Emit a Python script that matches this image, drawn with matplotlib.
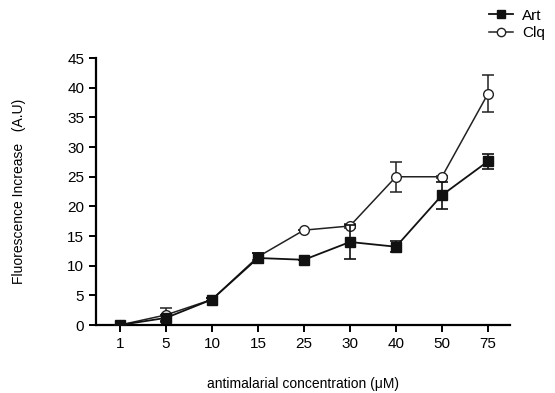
import matplotlib
matplotlib.use("Agg")
import matplotlib.pyplot as plt
from matplotlib.lines import Line2D
import numpy as np

plt.rcParams['font.family'] = ['Liberation Sans', 'DejaVu Sans']

concentrations = ["1", "5", "10", "15", "25", "30", "40", "50", "75"]
art = [0.0, 1.2, 4.3, 11.3, 11.0, 14.0, 13.2, 21.9, 27.6]
art_err = [0.0, 0.5, 0.3, 0.8, 0.0, 2.9, 0.9, 2.3, 1.3]
clq = [0.0, 1.7, 4.3, 11.5, 16.0, 16.7, 25.0, 25.0, 39.0]
clq_err = [0.0, 1.2, 0.2, 0.6, 0.0, 0.3, 2.5, 0.2, 3.1]

x = np.arange(len(concentrations))

fig = plt.figure(figsize=(5.55, 3.93), dpi=100)
ax = fig.add_axes([0.173, 0.173, 0.746, 0.679])

ax.errorbar(x, art, yerr=art_err, color='#111111', marker='s', markersize=7,
            lw=1.3, capsize=4, elinewidth=1.2, capthick=1.2, zorder=3)
ax.errorbar(x, clq, yerr=clq_err, color='#222222', marker='o', markersize=7,
            markerfacecolor='white', lw=1.1, capsize=4, elinewidth=1.1,
            capthick=1.1, zorder=2)

ax.set_xlim(-0.52, 8.48)
ax.set_ylim(0, 45)
ax.set_yticks(np.arange(0, 46, 5))
ax.set_xticks(x)
ax.set_xticklabels(concentrations)
ax.spines['top'].set_visible(False)
ax.spines['right'].set_visible(False)
for s in ['left', 'bottom']:
    ax.spines[s].set_linewidth(1.6)
ax.tick_params(direction='out', width=1.4, length=5, labelsize=11)

ax.set_ylabel("Fluorescence Increase   (A.U)", fontsize=10, labelpad=30)
ax.set_xlabel("antimalarial concentration (\u03bcM)", fontsize=10, labelpad=19)

handles = [
    Line2D([], [], color='#111111', marker='s', markersize=6, lw=1.3),
    Line2D([], [], color='#222222', marker='o', markersize=6,
           markerfacecolor='white', lw=1.1),
]
fig.legend(handles, ["Art", "Clq"], loc='upper left',
           bbox_to_anchor=(0.856, 1.013), frameon=False, fontsize=11,
           handlelength=1.6, handletextpad=0.6, labelspacing=0.25)

fig.savefig("out.png", dpi=100)
